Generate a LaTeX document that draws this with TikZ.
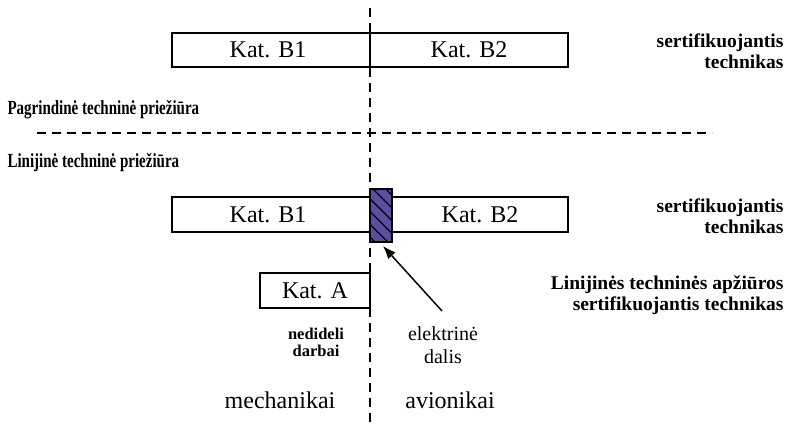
\documentclass[tikz,border=0pt]{standalone}
\usepackage{fontspec}
\setmainfont{Liberation Serif}
\newfontfamily\narrowbold{Liberation Serif}[FakeStretch=0.75]
\usetikzlibrary{patterns.meta,arrows.meta}
\definecolor{elviolet}{RGB}{92,78,160}
\tikzset{
  katbox/.style={draw, line width=1.5pt, inner sep=0pt},
  kattext/.style={font=\fontsize{24}{26}\selectfont, anchor=base},
  boldtext/.style={font=\fontsize{19.5}{21}\selectfont\bfseries, align=right, anchor=east},
  lefttext/.style={font=\fontsize{20}{22}\selectfont\narrowbold\bfseries, anchor=base west},
  divline/.style={line width=1.4pt, dash pattern=on 9pt off 6pt},
}
\begin{document}
\begin{tikzpicture}[x=1pt,y=-1pt]
	\useasboundingbox (0,0) rectangle (795,427);
	% Asys
		\draw[divline] (370,8) -- (370,427);
		\draw[divline] (37,133) -- (712,133);

	% Virsutinis blokas
		\draw[katbox] (172,33) rectangle (568,67);
		\draw[line width=1.5pt] (370,33) -- (370,67);
		\node[kattext] (b1top) at (268,58) {Kat. B1};
		\node[kattext] (b2top) at (469,58) {Kat. B2};
		\node[boldtext] (serttop) at (787,51) {sertifikuojantis\\technikas};

	% Sritys
		\node[lefttext] (pagr) at (4,115) {Pagrindinė techninė priežiūra};
		\node[lefttext] (linij) at (4,168) {Linijinė techninė priežiūra};

	% Apatinis blokas
		\draw[katbox] (172,197) rectangle (568,232);
		\node[kattext] (b1bot) at (268,223) {Kat. B1};
		\node[kattext] (b2bot) at (480,223) {Kat. B2};
		\draw[line width=1.5pt, preaction={fill=elviolet},
		      pattern={Lines[angle=-45, distance=9pt, line width=1.3pt]}] (370,189) rectangle (392,242);
		\coordinate (elbox) at (383,246);
		\node[boldtext] (sertbot) at (787,216) {sertifikuojantis\\technikas};
		\node[boldtext] (linapz) at (787,295) {Linijinės techninės apžiūros\\sertifikuojantis technikas};

	% Kat. A
		\draw[katbox] (260,273) rectangle (370,308);
		\node[kattext] (kata) at (315,299) {Kat. A};
		\node[font=\fontsize{16.5}{17}\selectfont\bfseries, align=center] (smulk) at (316,342) {nedideli\\darbai};

	% Rodykle
		\node[font=\fontsize{20}{23}\selectfont, align=center] (elek) at (443,345) {elektrinė\\dalis};
		\draw[-{Latex[length=13pt,width=10pt]}, line width=1.5pt] (442,311) -- (elbox);

	% Apacia
		\node[kattext] (mech) at (280,408) {mechanikai};
		\node[kattext] (avio) at (450,408) {avionikai};
\end{tikzpicture}
\end{document}
